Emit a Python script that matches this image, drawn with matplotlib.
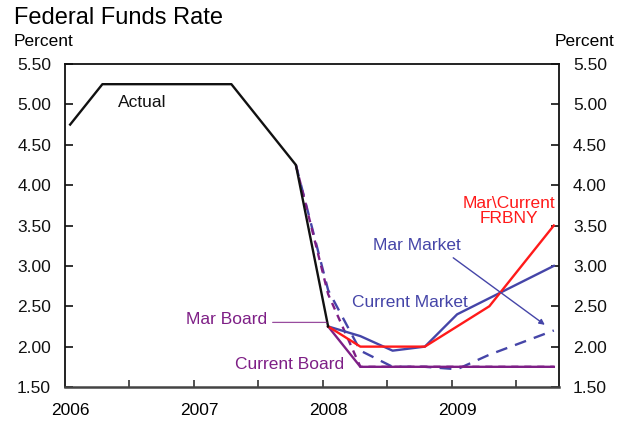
import matplotlib
matplotlib.use("Agg")
import matplotlib.pyplot as plt

plt.rcParams['font.family'] = ['Liberation Sans', 'DejaVu Sans']

# Quarterly positions (2006Q1 .. 2009Q4)
quarters = [2006.04 + 0.25 * i for i in range(16)]

actual_x = quarters[0:9]
actual = [4.75, 5.25, 5.25, 5.25, 5.25, 5.25, 4.75, 4.25, 2.25]

mar_board_x = quarters[7:16]
mar_board = [4.25, 2.65, 1.75, 1.75, 1.75, 1.75, 1.75, 1.75, 1.75]

current_board_x = quarters[8:16]
current_board = [2.25, 1.75, 1.75, 1.75, 1.75, 1.75, 1.75, 1.75]

frbny_x = quarters[8:16]
frbny = [2.25, 2.00, 2.00, 2.00, 2.25, 2.50, 3.00, 3.50]

mar_market_x = quarters[7:16]
mar_market = [4.25, 2.70, 1.95, 1.75, 1.75, 1.72, 1.90, 2.05, 2.20]

current_market_x = quarters[8:16]
current_market = [2.25, 2.13, 1.95, 2.00, 2.40, 2.60, 2.80, 3.00]

year_ticks = [2006, 2007, 2008, 2009]
y_ticks = [1.5, 2.0, 2.5, 3.0, 3.5, 4.0, 4.5, 5.0, 5.5]

BLACK = '#111111'
RED = '#FF1A1A'
BLUE = '#4545A8'
PURPLE = '#7E1F86'

fig = plt.figure(figsize=(6.27, 4.26), dpi=100)
ax = fig.add_axes([65/627, 39/426, (559-65)/627, (387-64)/426])

lw = 1.7
ax.plot(mar_market_x, mar_market, color=BLUE, lw=lw, dashes=(5, 3.5))
ax.plot(mar_board_x, mar_board, color=PURPLE, lw=lw, dashes=(3, 2.5))
ax.plot(current_board_x, current_board, color=PURPLE, lw=lw)
ax.plot(current_market_x, current_market, color=BLUE, lw=lw)
ax.plot(frbny_x, frbny, color=RED, lw=lw)
ax.plot(actual_x, actual, color=BLACK, lw=lw)

ax.set_xlim(2006, 2009.83)
ax.set_ylim(1.5, 5.5)

ax.set_yticks(y_ticks)
ax.set_yticklabels([f"{v:.2f}" for v in y_ticks])
ax.tick_params(axis='y', which='both', direction='in', length=6, width=1.2,
               labelsize=12.5, left=True, right=True, labelleft=True,
               labelright=True, pad=10, colors=BLACK)

half_years = [2006.5, 2007, 2007.5, 2008, 2008.5, 2009, 2009.5]
ax.set_xticks(half_years)
ax.set_xticklabels([])
ax.tick_params(axis='x', direction='in', length=5, width=1.2, colors='#333333')
for yr in year_ticks:
    ax.text(yr + 0.04, -0.072, str(yr), transform=ax.get_xaxis_transform(),
            ha='center', va='center', fontsize=12.5)

for s in ['left', 'right', 'top']:
    ax.spines[s].set_linewidth(1.3)
    ax.spines[s].set_color(BLACK)
ax.spines['bottom'].set_linewidth(1.8)
ax.spines['bottom'].set_color('#444444')

fig.text(14/627, 1 - 18/426, "Federal Funds Rate", fontsize=17, ha='left', va='center')
fig.text(14/627, 1 - 42/426, "Percent", fontsize=12.5, ha='left', va='center')
fig.text(585/627, 1 - 42/426, "Percent", fontsize=12.5, ha='center', va='center')

ax.text(2006.41, 5.02, "Actual", fontsize=12.5, color=BLACK, ha='left', va='center')
ax.text(2009.44, 3.68, "Mar\\Current\nFRBNY", fontsize=12.5, color=RED,
        ha='center', va='center', linespacing=1.05)
ax.text(2008.73, 3.25, "Mar Market", fontsize=12.5, color=BLUE, ha='center', va='center')
ax.annotate("", xy=(2009.72, 2.27), xytext=(2009.01, 3.10),
            arrowprops=dict(arrowstyle='-|>', color=BLUE, lw=1.0,
                            mutation_scale=8, shrinkA=0, shrinkB=0))
ax.text(2008.67, 2.55, "Current Market", fontsize=12.5, color=BLUE, ha='center', va='center')
ax.text(2007.57, 2.33, "Mar Board", fontsize=12.5, color=PURPLE, ha='right', va='center')
ax.annotate("", xy=(2008.03, 2.30), xytext=(2007.61, 2.30),
            arrowprops=dict(arrowstyle='-', color=PURPLE, lw=0.9, alpha=0.8,
                            shrinkA=0, shrinkB=0))
ax.text(2007.74, 1.78, "Current Board", fontsize=12.5, color=PURPLE, ha='center', va='center')

fig.savefig("out.png", dpi=100)
